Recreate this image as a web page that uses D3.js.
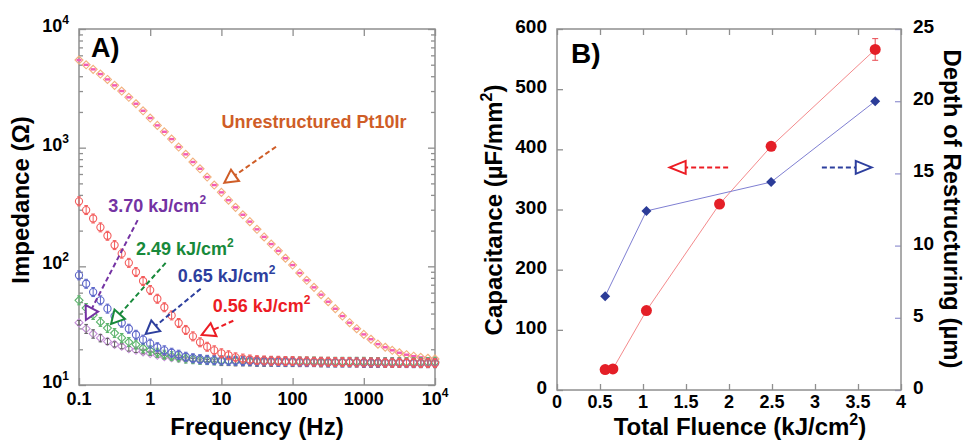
<!DOCTYPE html>
<html>
<head>
<meta charset="utf-8">
<title>Impedance and capacitance</title>
<script src="https://cdn.jsdelivr.net/npm/d3@7"></script>
<style>
  body { margin: 0; background: #fff; }
  text { font-family: 'Liberation Sans', Arial, sans-serif; font-weight: bold; }
</style>
</head>
<body>
<svg id="chart" width="968" height="443"></svg>
<script>
// ---- panel A data: impedance spectra, 10 points per decade
const freq = [0.1, 0.126, 0.158, 0.2, 0.251, 0.316, 0.398, 0.501, 0.631, 0.794,
  1, 1.26, 1.58, 2, 2.51, 3.16, 3.98, 5.01, 6.31, 7.94,
  10, 12.6, 15.8, 20, 25.1, 31.6, 39.8, 50.1, 63.1, 79.4,
  100, 126, 158, 200, 251, 316, 398, 501, 631, 794,
  1000, 1260, 1580, 2000, 2510, 3160, 3980, 5010, 6310, 7940, 10000];
const zUnrestructured = [5470, 4990, 4570, 4170, 3760, 3350, 3000, 2655, 2345, 2046,
  1775, 1541, 1361, 1181, 1012, 879, 757, 664, 565, 484,
  420, 361, 314, 272, 238, 205, 177, 154, 135, 117,
  102.5, 87.9, 76.2, 66.5, 57.7, 50.3, 43.9, 38.1, 33.5, 29.8,
  26.7, 24.3, 22.1, 20.8, 19.6, 18.7, 18.0, 17.5, 17.1, 16.8, 16.6];
const z056 = [353, 298, 253, 213, 181, 151, 128, 107, 89.5, 75.2,
  63.1, 53.3, 45.2, 38.6, 33.3, 29.1, 25.7, 22.9, 21.0, 19.6,
  18.5, 17.8, 17.1, 16.7, 16.4, 16.2, 16.1, 16.0, 16.0, 15.9,
  15.9, 15.8, 15.8, 15.7, 15.7, 15.7, 15.6, 15.6, 15.6, 15.5,
  15.5, 15.5, 15.5, 15.4, 15.4, 15.4, 15.4, 15.4, 15.3, 15.3, 15.3];
const z065 = [84.0, 71.3, 60.7, 51.7, 44.0, 38.1, 33.5, 29.8, 26.5, 24.1,
  22.3, 20.8, 19.6, 18.7, 18.0, 17.3, 16.8, 16.5, 16.3, 16.2,
  16.1, 16.0, 16.0, 15.9, 15.9, 15.8, 15.8, 15.8, 15.7, 15.7,
  15.7, 15.6, 15.6, 15.6, 15.6, 15.5, 15.5, 15.5, 15.5, 15.5,
  15.4, 15.4, 15.4, 15.4, 15.4, 15.4, 15.3, 15.3, 15.3, 15.3, 15.3];
const z249 = [51.7, 44.5, 38.9, 34.0, 30.2, 27.4, 24.9, 23.0, 21.9, 20.5,
  19.6, 18.7, 18.0, 17.5, 17.1, 16.7, 16.5, 16.3, 16.2, 16.1,
  16.1, 16.0, 16.0, 16.0, 15.9, 15.9, 15.9, 15.9, 15.8, 15.8,
  15.8, 15.8, 15.8, 15.8, 15.7, 15.7, 15.7, 15.7, 15.7, 15.7,
  15.7, 15.6, 15.6, 15.6, 15.6, 15.6, 15.6, 15.6, 15.6, 15.6, 15.6];
const z370 = [33.5, 29.8, 27.0, 24.9, 23.3, 22.0, 21.2, 20.2, 19.6, 19.0,
  18.4, 17.8, 17.3, 17.0, 16.7, 16.5, 16.3, 16.2, 16.1, 16.0,
  15.9, 15.9, 15.8, 15.8, 15.8, 15.7, 15.7, 15.7, 15.7, 15.6,
  15.6, 15.6, 15.6, 15.6, 15.5, 15.5, 15.5, 15.5, 15.5, 15.5,
  15.4, 15.4, 15.4, 15.4, 15.4, 15.4, 15.4, 15.3, 15.3, 15.3, 15.3];
const err370 = [1.5, 2.6, 2.2, 1.8, 1.4, 1.1, 1.0, 0.9, 0.8, 0.7,
  0.6, 0.6, 0.5, 0.5, 0.4, 0.4, 0.4, 0.3, 0.3, 0.3];

const freqTicks = [0.1, 1, 10, 100, 1000, 10000];
const freqTickLabels = [['0.1'], ['1'], ['10'], ['100'], ['1000'], ['10', '4']];
const zTicks = [10, 100, 1000, 10000];
const zTickLabels = [['10', '1'], ['10', '2'], ['10', '3'], ['10', '4']];

// ---- panel B data
const fluence = [0.56, 0.65, 1.04, 1.89, 2.49, 3.70];
const capacitance = [34, 35, 132, 309, 405, 566];
const capErr = [0, 0, 0, 0, 0, 18];
const depthFluence = [0.56, 1.04, 2.49, 3.70];
const depth = [6.5, 12.4, 14.4, 20.0];

const fluenceTicks = [0, 0.5, 1, 1.5, 2, 2.5, 3, 3.5, 4];
const capTicks = [0, 100, 200, 300, 400, 500, 600];
const depthTicks = [0, 5, 10, 15, 20, 25];

const svg = d3.select('#chart');
svg.append('rect').attr('width', 968).attr('height', 443).attr('fill', '#fff');
const grey = '#8f8f8f';

// superscript helper: base text, raised part, trailing text
function supText(sel, base, sup, after, size) {
  sel.attr('font-size', size);
  sel.append('tspan').text(base);
  if (!sup) return sel;
  const up = Math.round(size * 0.42);
  sel.append('tspan').text(sup).attr('font-size', Math.round(size * 0.66)).attr('dy', -up);
  if (after) sel.append('tspan').text(after).attr('dy', up);
  return sel;
}

function tickGroup(g, axis, transform, color) {
  g.append('g').attr('transform', transform).call(axis)
    .call(s => s.select('.domain').remove())
    .call(s => s.selectAll('line').attr('stroke', color).attr('stroke-width', 1.3));
}

function arrow(g, p0, p1, color, len, half) {
  const dx = p1[0] - p0[0], dy = p1[1] - p0[1];
  const d = Math.hypot(dx, dy), ux = dx / d, uy = dy / d;
  const bx = p1[0] - ux * len, by = p1[1] - uy * len;
  g.append('line')
    .attr('x1', p0[0]).attr('y1', p0[1]).attr('x2', bx).attr('y2', by)
    .attr('stroke', color).attr('stroke-width', 2).attr('stroke-dasharray', '5,3');
  g.append('polygon')
    .attr('points', [[p1[0], p1[1]], [bx - uy * half, by + ux * half], [bx + uy * half, by - ux * half]].join(' '))
    .attr('fill', '#fff').attr('stroke', color).attr('stroke-width', 2).attr('stroke-linejoin', 'miter');
}

// ================= panel A =================
const xA = d3.scaleLog().domain([0.1, 1e4]).range([79, 435]);
const yA = d3.scaleLog().domain([10, 1e4]).range([385, 29]);
const gA = svg.append('g');
const minorZ = yA.ticks().filter(v => !zTicks.includes(v));

tickGroup(gA, d3.axisBottom(xA).tickValues(freqTicks).tickSize(-7).tickFormat(''), `translate(0,${yA(10)})`, grey);
tickGroup(gA, d3.axisTop(xA).tickValues(freqTicks).tickSize(-7).tickFormat(''), `translate(0,${yA(1e4)})`, grey);
tickGroup(gA, d3.axisLeft(yA).tickValues(zTicks).tickSize(-7).tickFormat(''), `translate(${xA(0.1)},0)`, grey);
tickGroup(gA, d3.axisLeft(yA).tickValues(minorZ).tickSize(-4).tickFormat(''), `translate(${xA(0.1)},0)`, grey);
tickGroup(gA, d3.axisRight(yA).tickValues(zTicks).tickSize(-7).tickFormat(''), `translate(${xA(1e4)},0)`, grey);
tickGroup(gA, d3.axisRight(yA).tickValues(minorZ).tickSize(-4).tickFormat(''), `translate(${xA(1e4)},0)`, grey);

gA.append('rect')
  .attr('x', xA(0.1)).attr('y', yA(1e4))
  .attr('width', xA(1e4) - xA(0.1)).attr('height', yA(10) - yA(1e4))
  .attr('fill', 'none').attr('stroke', grey).attr('stroke-width', 1.5);

freqTicks.forEach((v, i) => {
  const t = gA.append('text').attr('x', xA(v)).attr('y', yA(10) + 20).attr('text-anchor', 'middle');
  supText(t, freqTickLabels[i][0], freqTickLabels[i][1], null, 18);
});
zTicks.forEach((v, i) => {
  const t = gA.append('text').attr('x', xA(0.1) - 10).attr('y', yA(v) + 3).attr('text-anchor', 'end');
  supText(t, zTickLabels[i][0], zTickLabels[i][1], null, 18);
});

gA.append('text').attr('x', (xA(0.1) + xA(1e4)) / 2).attr('y', 435)
  .attr('text-anchor', 'middle').attr('font-size', 24).text('Frequency (Hz)');
gA.append('text').attr('transform', 'translate(29,200) rotate(-90)')
  .attr('text-anchor', 'middle').attr('font-size', 24).text('Impedance (\u03A9)');
gA.append('text').attr('x', 91).attr('y', 57).attr('font-size', 27).text('A)');

// marker series
const seriesA = [
  { values: zUnrestructured, shape: 'diamond', stroke: '#f2b07c', center: '#f45cb4' },
  { values: z370, shape: 'diamond', stroke: '#c690d8', bar: '#5f5f5f', err: err370 },
  { values: z249, shape: 'diamond', stroke: '#5cb46c', bar: '#5cb46c' },
  { values: z065, shape: 'circle', stroke: '#5b65c9', bar: '#5b65c9' },
  { values: z056, shape: 'circle', stroke: '#f35c5c', bar: '#f35c5c' }
];

seriesA.forEach(s => {
  const pts = gA.append('g').selectAll('g').data(s.values).join('g')
    .attr('transform', (d, i) => `translate(${xA(freq[i])},${yA(d)})`);
  if (s.shape === 'diamond') {
    pts.append('path').attr('d', 'M0,-4L4,0L0,4L-4,0Z')
      .attr('fill', 'none').attr('stroke', s.stroke).attr('stroke-width', 1.1);
  } else {
    pts.append('circle').attr('r', 3.6)
      .attr('fill', 'none').attr('stroke', s.stroke).attr('stroke-width', 1.1);
  }
  if (s.center) {
    pts.append('rect').attr('x', -2.5).attr('y', -1.2).attr('width', 5).attr('height', 2.4).attr('fill', s.center);
  }
  if (s.bar) {
    pts.each(function (d, i) {
      const e = s.err ? (s.err[i] || 0) : 0;
      const top = e ? yA(d + e) - yA(d) : -4.5;
      const bot = e ? yA(d - e) - yA(d) : 4.5;
      const g = d3.select(this);
      g.append('line').attr('x1', 0).attr('x2', 0).attr('y1', top).attr('y2', bot)
        .attr('stroke', s.bar).attr('stroke-width', 1);
      [top, bot].forEach(yy => g.append('line').attr('x1', -1.8).attr('x2', 1.8).attr('y1', yy).attr('y2', yy)
        .attr('stroke', s.bar).attr('stroke-width', 1));
    });
  }
});

// annotations (data coordinates)
const notesA = [
  { label: 'Unrestructured Pt10Ir', sup: null, color: '#cf5d27', at: [10, 1460], from: [58.5, 1019], to: [11.0, 506] },
  { label: '3.70 kJ/cm', sup: '2', color: '#7433a3', at: [0.258, 287], from: [0.667, 245], to: [0.125, 35.3] },
  { label: '2.49 kJ/cm', sup: '2', color: '#18893b', at: [0.632, 124.5], from: [1.65, 107], to: [0.282, 32.7] },
  { label: '0.65 kJ/cm', sup: '2', color: '#2d3f9e', at: [2.43, 74.5], from: [5.12, 64.8], to: [0.865, 26.9] },
  { label: '0.56 kJ/cm', sup: '2', color: '#ec1c24', at: [7.55, 41.6], from: [14.7, 34.8], to: [5.29, 26.4] }
];
notesA.forEach(n => {
  const t = gA.append('text').attr('x', xA(n.at[0])).attr('y', yA(n.at[1])).attr('fill', n.color);
  supText(t, n.label, n.sup, null, 18);
  arrow(gA, [xA(n.from[0]), yA(n.from[1])], [xA(n.to[0]), yA(n.to[1])], n.color, 13, 7);
});

// ================= panel B =================
const xB = d3.scaleLinear().domain([0, 4]).range([557, 901]);
const yB = d3.scaleLinear().domain([0, 600]).range([390, 29]);
const yB2 = d3.scaleLinear().domain([0, 25]).range([390, 29]);
const gB = svg.append('g');

tickGroup(gB, d3.axisBottom(xB).tickValues(fluenceTicks).tickSize(-6).tickFormat(''), `translate(0,${yB(0)})`, grey);
tickGroup(gB, d3.axisTop(xB).tickValues(fluenceTicks).tickSize(-6).tickFormat(''), `translate(0,${yB(600)})`, grey);
tickGroup(gB, d3.axisLeft(yB).tickValues(capTicks).tickSize(-6).tickFormat(''), `translate(${xB(0)},0)`, grey);
tickGroup(gB, d3.axisRight(yB2).tickValues(depthTicks).tickSize(-6).tickFormat(''), `translate(${xB(4)},0)`, '#9a9ad4');

gB.append('rect')
  .attr('x', xB(0)).attr('y', yB(600))
  .attr('width', xB(4) - xB(0)).attr('height', yB(0) - yB(600))
  .attr('fill', 'none').attr('stroke', grey).attr('stroke-width', 1.5);

fluenceTicks.forEach(v => {
  gB.append('text').attr('x', xB(v)).attr('y', yB(0) + 18).attr('text-anchor', 'middle')
    .attr('font-size', 18).text(v);
});
capTicks.forEach(v => {
  gB.append('text').attr('x', xB(0) - 10).attr('y', yB(v) + 4).attr('text-anchor', 'end')
    .attr('font-size', 19).text(v);
});
depthTicks.forEach(v => {
  gB.append('text').attr('x', xB(4) + 12).attr('y', yB2(v) + 4).attr('text-anchor', 'start')
    .attr('font-size', 19).text(v);
});

supText(gB.append('text').attr('x', 740).attr('y', 435).attr('text-anchor', 'middle'),
  'Total Fluence (kJ/cm', '2', ')', 24);
supText(gB.append('text').attr('transform', 'translate(502,210) rotate(-90)').attr('text-anchor', 'middle'),
  'Capacitance (\u00B5F/mm', '2', ')', 24);
gB.append('text').attr('transform', 'translate(944,209) rotate(90)').attr('text-anchor', 'middle')
  .attr('font-size', 24).text('Depth of Restructuring (\u00B5m)');
gB.append('text').attr('x', 571).attr('y', 63).attr('font-size', 28).text('B)');

// lines
gB.append('path')
  .attr('d', d3.line().x((d, i) => xB(fluence[i])).y(d => yB(d))(capacitance))
  .attr('fill', 'none').attr('stroke', '#f48a8c').attr('stroke-width', 1);
gB.append('path')
  .attr('d', d3.line().x((d, i) => xB(depthFluence[i])).y(d => yB2(d))(depth))
  .attr('fill', 'none').attr('stroke', '#7f7fd2').attr('stroke-width', 1);

// error bars
capacitance.forEach((c, i) => {
  if (!capErr[i]) return;
  const x = xB(fluence[i]);
  gB.append('line').attr('x1', x).attr('x2', x).attr('y1', yB(c + capErr[i])).attr('y2', yB(c - capErr[i]))
    .attr('stroke', '#e8494f').attr('stroke-width', 1);
  [c + capErr[i], c - capErr[i]].forEach(v => gB.append('line')
    .attr('x1', x - 3).attr('x2', x + 3).attr('y1', yB(v)).attr('y2', yB(v))
    .attr('stroke', '#e8494f').attr('stroke-width', 1));
});

gB.append('g').selectAll('circle').data(capacitance).join('circle')
  .attr('cx', (d, i) => xB(fluence[i])).attr('cy', d => yB(d)).attr('r', 5.5)
  .attr('fill', '#e41f27');
gB.append('g').selectAll('path').data(depth).join('path')
  .attr('transform', (d, i) => `translate(${xB(depthFluence[i])},${yB2(d)})`)
  .attr('d', 'M0,-5L5,0L0,5L-5,0Z').attr('fill', '#2b3c98');

// direction arrows (capacitance level 370, horizontal)
arrow(gB, [xB(1.99), yB(370)], [xB(1.31), yB(370)], '#ec1c24', 16, 6.5);
arrow(gB, [xB(3.08), yB(370)], [xB(3.66), yB(370)], '#2d3f9e', 16, 6.5);
</script>
</body>
</html>
